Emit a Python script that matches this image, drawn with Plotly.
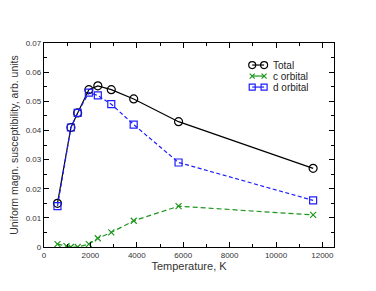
import plotly.graph_objects as go

T_total = [580, 1160, 1450, 1933, 2320, 2900, 3867, 5800, 11600]
total = [0.015, 0.041, 0.046, 0.054, 0.0553, 0.054, 0.0508, 0.043, 0.027]

T_c = [580, 967, 1160, 1450, 1933, 2320, 2900, 3867, 5800, 11600]
c_orb = [0.001, 0.0003, 0.0, 0.0, 0.001, 0.003, 0.005, 0.009, 0.014, 0.011]

T_d = [580, 1160, 1450, 1933, 2320, 2900, 3867, 5800, 11600]
d_orb = [0.014, 0.041, 0.046, 0.053, 0.052, 0.049, 0.042, 0.029, 0.016]

x_ticks = [0, 2000, 4000, 6000, 8000, 10000, 12000]
x_tick_labels = ["0", "2000", "4000", "6000", "8000", "10000", "12000"]
y_ticks = [0, 0.01, 0.02, 0.03, 0.04, 0.05, 0.06, 0.07]
y_tick_labels = ["0", "0.01", "0.02", "0.03", "0.04", "0.05", "0.06", "0.07"]

series_names = ["Total", "c orbital", "d orbital"]

FONT = "Liberation Sans, Arial, sans-serif"
green = "rgb(30,150,30)"
blue = "rgb(30,30,255)"

styles = [
    dict(line=dict(color="black", width=1.2),
         marker=dict(symbol="circle-open", size=8, color="black", line=dict(width=1.2, color="black"))),
    dict(line=dict(color=green, width=1.2, dash="5px,3px"),
         marker=dict(symbol="x-thin-open", size=6, color=green, line=dict(width=1.2, color=green))),
    dict(line=dict(color=blue, width=1.2, dash="4px,2.5px"),
         marker=dict(symbol="square-open", size=7, color=blue, line=dict(width=1.2, color=blue))),
]

fig = go.Figure()
for name, xs, ys, st in zip(series_names, [T_total, T_c, T_d], [total, c_orb, d_orb], styles):
    fig.add_trace(go.Scatter(x=xs, y=ys, name=name, mode="lines+markers",
                             line=st["line"], marker=st["marker"], showlegend=False))

# grace-style legend drawn on an invisible overlay axis (0..1 = plot area)
leg_x = [0.718, 0.759]
leg_text_x = 0.783
leg_rows = [0.892, 0.838, 0.784]
leg_marker_sizes = [7, 5, 6]
for name, st, ly, ms in zip(series_names, styles, leg_rows, leg_marker_sizes):
    mk = dict(st["marker"])
    mk["size"] = ms
    fig.add_trace(go.Scatter(x=leg_x, y=[ly, ly], mode="lines+markers", xaxis="x2", yaxis="y2",
                             line=dict(color=st["line"]["color"], width=1.2),
                             marker=mk, showlegend=False, hoverinfo="skip"))
    fig.add_annotation(x=leg_text_x, y=ly, xref="x2", yref="y2", text=name, showarrow=False,
                       xanchor="left", yanchor="middle", height=10, valign="middle",
                       font=dict(family=FONT, size=10, color="#222"))

axis_common = dict(showline=True, linecolor="black", linewidth=1.3, mirror="ticks",
                   ticks="inside", ticklen=5, tickwidth=1, tickcolor="black",
                   showgrid=False, zeroline=False, automargin=False,
                   tickfont=dict(family=FONT, size=8, color="#333"))

fig.update_xaxes(range=[0, 12500], tickvals=x_ticks, ticktext=x_tick_labels,
                 title=dict(text="Temperature, K", standoff=3,
                            font=dict(family=FONT, size=11, color="#333")),
                 minor=dict(ticks="inside", dtick=1000, ticklen=3, tickcolor="black"),
                 **axis_common)
fig.update_yaxes(range=[0, 0.07], tickvals=y_ticks, ticktext=y_tick_labels,
                 title=dict(text="Uniform magn. susceptibility, arb. units", standoff=4,
                            font=dict(family=FONT, size=10.5, color="#333")),
                 minor=dict(ticks="inside", dtick=0.005, ticklen=3, tickcolor="black"),
                 **axis_common)

fig.update_layout(
    width=368, height=283,
    margin=dict(l=36, r=42, t=35, b=44),
    paper_bgcolor="white", plot_bgcolor="white",
    showlegend=False,
    xaxis2=dict(overlaying="x", range=[0, 1], visible=False, fixedrange=True),
    yaxis2=dict(overlaying="y", range=[0, 1], visible=False, fixedrange=True),
)

fig.write_html("out.html")
